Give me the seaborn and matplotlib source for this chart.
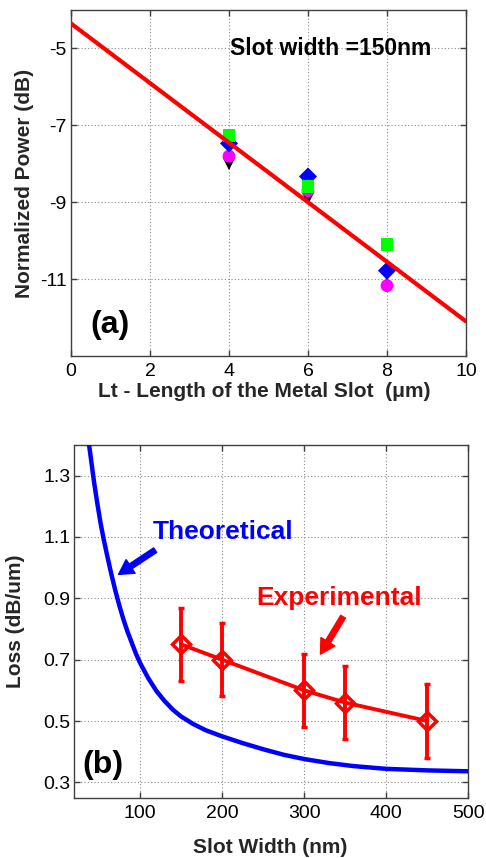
import numpy as np
import pandas as pd
import matplotlib
matplotlib.use("Agg")
import matplotlib.pyplot as plt
import seaborn as sns

# ---------------- data (panel a) ----------------
lt_um = [4, 6, 8]
pw_green = [-7.27, -8.60, -10.10]
pw_blue = [-7.47, -8.33, -10.78]
pw_magenta = [-7.80, -8.70, -11.17]
pw_black = [-8.00, -8.90, -10.88]
fit_x = [0, 10]
fit_y = [-4.35, -12.10]

# ---------------- data (panel b) ----------------
theo_w = [38, 41, 44, 48, 52, 56, 60, 65, 70, 75, 80, 85, 90, 95, 100, 110,
          120, 130, 140, 150, 165, 180, 200, 225, 250, 275, 300, 330, 360,
          400, 450, 500]
theo_loss = [1.40, 1.34, 1.28, 1.21, 1.145, 1.09, 1.04, 0.98, 0.925, 0.875,
             0.83, 0.79, 0.755, 0.72, 0.69, 0.64, 0.598, 0.565, 0.537,
             0.515, 0.490, 0.470, 0.450, 0.428, 0.408, 0.390, 0.376, 0.363,
             0.353, 0.344, 0.339, 0.336]
exp_w = [150, 200, 300, 350, 450]
exp_loss = [0.75, 0.70, 0.60, 0.56, 0.50]
exp_err = [0.12, 0.12, 0.12, 0.12, 0.12]

sns.set_style("ticks")
plt.rcParams["font.family"] = ["Liberation Sans", "DejaVu Sans"]
plt.rcParams["axes.unicode_minus"] = False

fig = plt.figure(figsize=(4.86, 8.58), dpi=100)
ax1 = fig.add_axes([0.1461, 0.5851, 0.9588 - 0.1461, 0.9883 - 0.5851])
ax2 = fig.add_axes([0.1529, 0.0703, 0.9636 - 0.1529, 0.4814 - 0.0703])

spine_col = "#404040"
grid_kw = dict(color="#8a8a8a", linestyle=(0, (1, 2)), linewidth=0.8)


def style_axes(ax):
    for s in ax.spines.values():
        s.set_color(spine_col)
        s.set_linewidth(1.0)
    ax.tick_params(direction="in", length=4, width=1, color=spine_col,
                   top=True, right=True, labelsize=14, labelcolor="black")
    ax.tick_params(axis="x", pad=5)
    ax.tick_params(axis="y", pad=3)
    ax.grid(True, **grid_kw)
    ax.set_axisbelow(True)


# ---------------- panel a ----------------
rows = []
for name, vals in [("black", pw_black), ("magenta", pw_magenta),
                   ("blue", pw_blue), ("green", pw_green)]:
    for x, y in zip(lt_um, vals):
        rows.append({"Lt": x, "P": y, "series": name})
df_a = pd.DataFrame(rows)
palette = {"black": "black", "magenta": "#ff00ff", "blue": "#0000ff",
           "green": "#00ff00"}
markers = {"black": "v", "magenta": "o", "blue": "D", "green": "s"}
sns.scatterplot(data=df_a, x="Lt", y="P", hue="series", style="series",
                palette=palette, markers=markers, s=85, linewidth=0,
                legend=False, ax=ax1, zorder=3)
sns.lineplot(x=fit_x, y=fit_y, color="red", linewidth=3.0, ax=ax1, zorder=4)

ax1.set_xlim(0, 10)
ax1.set_ylim(-13, -4)
ax1.set_xticks([0, 2, 4, 6, 8, 10])
ax1.set_yticks([-5, -7, -9, -11])
style_axes(ax1)
ax1.set_xlabel("Lt - Length of the Metal Slot  (\u03bcm)", fontsize=15,
               fontweight="bold")
ax1.set_ylabel("Normalized Power (dB)", fontsize=15, fontweight="bold")
ax1.xaxis.set_label_coords(0.489, -0.075)
ax1.yaxis.set_label_coords(-0.094, 0.5)
ax1.text(4.03, -5.0, "Slot width =150nm", fontsize=16.5, fontweight="bold",
         ha="left", va="center", color="black")
ax1.text(0.48, -12.19, "(a)", fontsize=23, fontweight="bold", ha="left",
         va="center", color="black")

# ---------------- panel b ----------------
sns.lineplot(x=theo_w, y=theo_loss, color="#0000ff", linewidth=3.2, ax=ax2,
             zorder=3)
sns.lineplot(x=exp_w, y=exp_loss, color="red", linewidth=2.8, ax=ax2,
             zorder=4)
ax2.errorbar(exp_w, exp_loss, yerr=exp_err, fmt="D", color="red",
             markerfacecolor="none", markeredgecolor="red", markersize=9,
             markeredgewidth=2.5, elinewidth=2.8, capsize=2.5, capthick=2.8,
             zorder=5)

ax2.set_xlim(20, 500)
ax2.set_ylim(0.25, 1.40)
ax2.set_xticks([100, 200, 300, 400, 500])
ax2.set_yticks([0.3, 0.5, 0.7, 0.9, 1.1, 1.3])
ax2.set_yticklabels(["0.3", "0.5", "0.7", "0.9", "1.1", "1.3"])
style_axes(ax2)
ax2.set_xlabel("Slot Width (nm)", fontsize=15, fontweight="bold")
ax2.set_ylabel("Loss (dB/um)", fontsize=15, fontweight="bold")
ax2.xaxis.set_label_coords(0.497, -0.115)
ax2.yaxis.set_label_coords(-0.125, 0.5)

ax2.text(116, 1.116, "Theoretical", fontsize=19, fontweight="bold",
         color="#0000ff", ha="left", va="center")
ax2.text(242, 0.90, "Experimental", fontsize=19, fontweight="bold",
         color="red", ha="left", va="center")
ax2.text(29.7, 0.356, "(b)", fontsize=23, fontweight="bold", color="black",
         ha="left", va="center")

arrow_style = "simple,head_width=0.9,head_length=0.8,tail_width=0.3"
ax2.annotate("", xy=(73.9, 0.978), xytext=(118.5, 1.057),
             arrowprops=dict(arrowstyle=arrow_style, color="#0000ff",
                             shrinkA=0, shrinkB=0, mutation_scale=13))
ax2.annotate("", xy=(319.9, 0.718), xytext=(347.4, 0.84),
             arrowprops=dict(arrowstyle=arrow_style, color="red",
                             shrinkA=0, shrinkB=0, mutation_scale=13))

fig.savefig("out.png", dpi=100)
